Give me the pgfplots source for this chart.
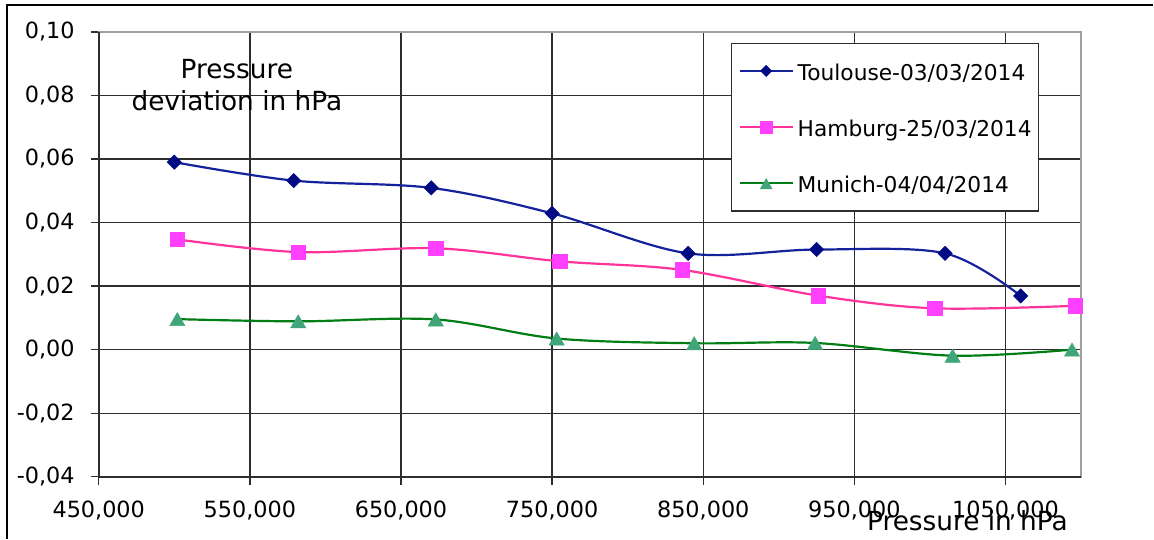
\documentclass[border=0pt]{standalone}
\usepackage{fontspec}
\setmainfont{DejaVu Sans}
\usepackage{pgfplots}
\pgfplotsset{compat=1.18}

\definecolor{toulLine}{RGB}{20,35,155}
\definecolor{toulMark}{RGB}{0,10,130}
\definecolor{hambLine}{RGB}{255,51,153}
\definecolor{hambMark}{RGB}{255,64,255}
\definecolor{munLine}{RGB}{0,125,20}
\definecolor{munMark}{RGB}{64,165,120}
\definecolor{gridc}{RGB}{45,45,45}
\definecolor{borderc}{RGB}{160,160,160}

\begin{document}
\begin{tikzpicture}
\begin{axis}[
  scale only axis, width=985pt, height=446pt,
  xmin=450, xmax=1100, ymin=-0.04, ymax=0.10,
  xtick={450,550,650,750,850,950,1050},
  xticklabels={{450,000},{550,000},{650,000},{750,000},{850,000},{950,000},{1050,000}},
  ytick={-0.04,-0.02,0,0.02,0.04,0.06,0.08,0.10},
  yticklabels={{-0,04},{-0,02},{0,00},{0,02},{0,04},{0,06},{0,08},{0,10}},
  grid=major, major grid style={gridc, line width=1.3pt},
  axis line style={borderc, line width=2.2pt},
  tick align=outside, major tick length=8pt,
  tick style={gridc, line width=1.3pt},
  xtick pos=left, ytick pos=left,
  ticklabel style={font=\fontsize{22.4}{26}\selectfont, inner sep=0pt},
  yticklabel style={anchor=east, xshift=-16pt},
  xticklabel style={anchor=north, yshift=-16pt},
  clip=false,
  legend cell align=left,
  legend style={at={(0.6437,0.976)}, anchor=north west,
    draw=gridc, line width=1.2pt, fill=white,
    font=\fontsize{21.8}{26}\selectfont,
    inner xsep=7pt, inner ysep=13.3pt,
    nodes={inner sep=0pt, text height=24pt, text depth=5pt},
    row sep=27.35pt, column sep=4pt},
  legend image code/.code={\draw[mark repeat=2,mark phase=2,#1,
      every mark/.append style={scale=0.78}]
      plot coordinates {(0pt,0pt) (26.5pt,0pt) (53pt,0pt)};},
]
\addplot[toulLine, line width=2.2pt, smooth, tension=0.55,
  mark=square*, mark size=5.1pt,
  mark options={rotate=45, fill=toulMark, draw=toulMark, line width=0.5pt}]
  coordinates {(500,0.0590) (579,0.0532) (670,0.0509) (750,0.0429)
               (840,0.0303) (925,0.0315) (1010,0.0303) (1060,0.0169)};
\addlegendentry{Toulouse-03/03/2014}
\addplot[hambLine, line width=2.2pt, smooth, tension=0.55,
  mark=square*, mark size=7.3pt,
  mark options={fill=hambMark, draw=hambMark, line width=0.5pt}]
  coordinates {(502,0.0347) (582,0.0307) (673,0.0319) (755,0.0278)
               (836,0.0251) (926,0.0170) (1003,0.0130) (1096,0.0138)};
\addlegendentry{Hamburg-25/03/2014}
\addplot[munLine, line width=2.2pt, smooth, tension=0.55,
  mark=triangle*, mark size=8.8pt,
  mark options={fill=munMark, draw=munMark, line width=0.5pt, yshift=-2.2pt}]
  coordinates {(502,0.0096) (582,0.0089) (673,0.0095) (753,0.0035)
               (844,0.0020) (924,0.0021) (1015,-0.0019) (1094,0.0000)};
\addlegendentry{Munich-04/04/2014}
% dark left and bottom axis lines
\draw[gridc, line width=1.7pt] (rel axis cs:0,1) -- (rel axis cs:0,0) -- (rel axis cs:1,0);
\node[anchor=base, font=\fontsize{26.4}{32}\selectfont] at (rel axis cs:0.1406,0.8946) {Pressure};
\node[anchor=base, font=\fontsize{26.4}{32}\selectfont] at (rel axis cs:0.1406,0.8229) {deviation in hPa};
\node[anchor=base, font=\fontsize{26.4}{32}\selectfont] at (rel axis cs:0.8843,-0.1204) {Pressure in hPa};
\end{axis}
% outer frame and page extent
\draw[black, line width=2.2pt] (-92pt,-62pt) -- (-92pt,473pt) -- (1057pt,473pt);
\path[use as bounding box] (-99pt,-60pt) rectangle (1055pt,478pt);
\end{tikzpicture}
\end{document}
